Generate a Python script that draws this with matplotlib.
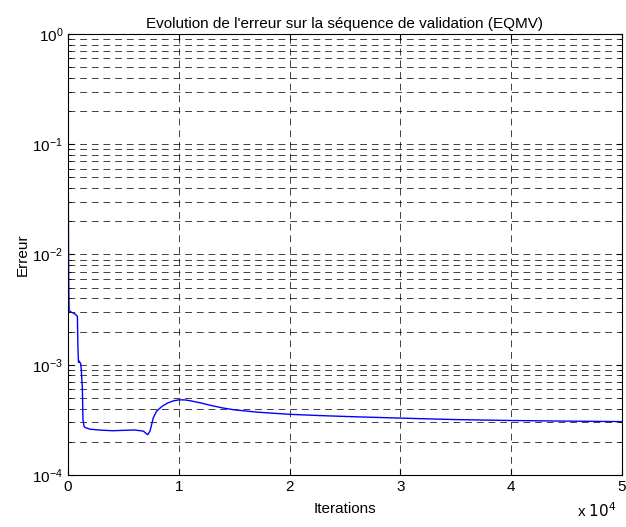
import numpy as np
import matplotlib.pyplot as plt
from matplotlib.ticker import FixedLocator, LogLocator, NullFormatter

plt.rcParams['font.family'] = ['Liberation Sans', 'DejaVu Sans']

# validation error (EQMV): iteration -> error
ITERATIONS = [0, 20, 60, 100, 300, 600, 850, 900, 950, 1000, 1150, 1200, 1300,
              1350, 1450, 1600, 2000, 3000, 4000, 5000, 6000, 6800, 7200, 7400,
              7700, 8000, 8500, 9000, 9500, 10000, 10500, 11000, 12000, 13000,
              14000, 15000, 17000, 20000, 23000, 26000, 30000, 35000, 40000,
              45000, 50000]
ERRORS = [0.30, 0.05, 0.0065, 0.0031, 0.0030, 0.0029, 0.00275, 0.0014, 0.00105,
          0.00108, 0.00102, 0.00090, 0.00060, 0.00032, 0.000275, 0.000268,
          0.000260, 0.000255, 0.000252, 0.000254, 0.000256, 0.000250, 0.000232,
          0.000250, 0.000330, 0.000380, 0.000420, 0.000450, 0.000470, 0.000480,
          0.000480, 0.000472, 0.000450, 0.000425, 0.000405, 0.000390, 0.000372,
          0.000355, 0.000345, 0.000337, 0.000328, 0.000318, 0.000312, 0.000308,
          0.000305]

X_TICKS = [0, 10000, 20000, 30000, 40000, 50000]


def main():
    fig = plt.figure(figsize=(6.26, 5.27), dpi=100)
    ax = fig.add_axes([0.1086, 0.0987, 0.8850, 0.8368])

    ax.semilogy(ITERATIONS, ERRORS, color='#0000ff', linewidth=1.0)

    ax.set_xlim(0, 50000)
    ax.set_ylim(1e-4, 1)
    ax.xaxis.set_major_locator(FixedLocator(X_TICKS))
    ax.set_xticklabels([str(int(t / 10000)) for t in X_TICKS])
    ax.yaxis.set_minor_locator(LogLocator(base=10, subs=np.arange(2, 10)))
    ax.yaxis.set_minor_formatter(NullFormatter())

    # matlab-like grid: dashed lines on major x, major+minor y
    grid_style = dict(color='black', linestyle=(0, (7, 5)), linewidth=0.7, alpha=0.75)
    ax.grid(True, which='major', axis='both', **grid_style)
    ax.grid(True, which='minor', axis='y', **grid_style)

    ax.tick_params(which='both', direction='in', top=True, right=True,
                   labelsize=11, length=4)
    ax.tick_params(which='minor', length=2)
    for spine in ax.spines.values():
        spine.set_linewidth(0.8)

    ax.set_title("Evolution de l'erreur sur la séquence de validation (EQMV)",
                 fontsize=11, pad=4)
    ax.set_xlabel('Iterations', fontsize=11, labelpad=6)
    ax.set_ylabel('Erreur', fontsize=11, labelpad=2)
    fig.text(0.985, 0.014, r'x $10^4$', ha='right', va='bottom', fontsize=11)

    fig.savefig('out.png', dpi=100)


if __name__ == "__main__":
    main()
